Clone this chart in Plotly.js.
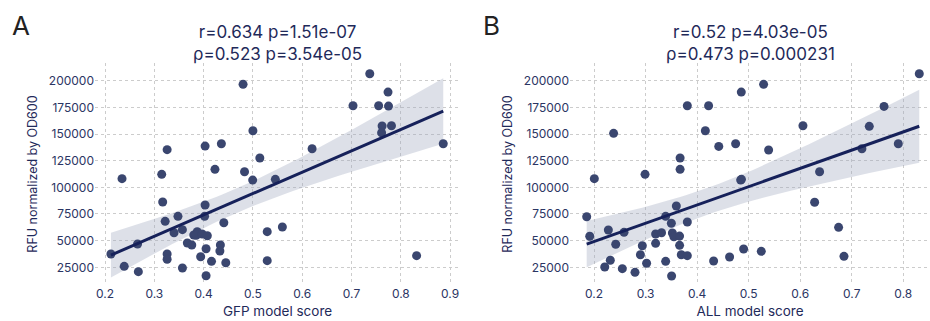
<!DOCTYPE html>
<html>
<head>
<meta charset="utf-8">
<script src="https://cdn.plot.ly/plotly-3.0.1.min.js"></script>
<style>html,body{margin:0;padding:0;background:#fff;}#chart{width:930px;height:321px;}</style>
</head>
<body>
<div id="chart"></div>
<script>
// Panel A: GFP model score vs RFU normalized by OD600
const gfpScore = [0.480,0.500,0.326,0.403,0.436,0.514,0.2345,0.315,0.423,0.483,0.4995,0.5455,0.737,0.774,0.703,0.755,0.775,0.762,0.781,0.761,0.620,0.886,0.5597,0.832,0.317,0.403,0.348,0.322,0.402,0.441,0.340,0.357,0.387,0.380,0.385,0.397,0.4075,0.367,0.376,0.266,0.434,0.433,0.405,0.212,0.326,0.326,0.394,0.416,0.445,0.529,0.529,0.239,0.2676,0.357,0.405];
const gfpRFU = [196600,153100,135300,138700,140900,127500,108100,112200,116900,114600,106800,107500,206500,189300,176500,176500,176200,157500,157700,151200,136200,140900,62800,35900,86200,83400,72800,68100,72800,66800,57400,60300,58400,55300,55000,56200,54600,47800,45900,46800,45900,40300,42400,37500,37500,32500,34900,30600,29300,58400,31200,25900,20900,24300,17100];

// Panel B: ALL model score vs RFU normalized by OD600
const allScore = [0.2006,0.238,0.299,0.367,0.367,0.381,0.4223,0.416,0.442,0.4747,0.4857,0.4845,0.486,0.529,0.6053,0.5387,0.734,0.7626,0.831,0.7903,0.7197,0.6376,0.628,0.6745,0.6849,0.4902,0.5245,0.1858,0.1917,0.2278,0.2582,0.2421,0.2316,0.2208,0.2549,0.2795,0.302,0.290,0.2937,0.3195,0.3195,0.331,0.339,0.3597,0.350,0.381,0.352,0.355,0.366,0.366,0.3693,0.381,0.339,0.3505,0.432,0.463];
const allRFU = [108100,150600,112200,127500,116900,176500,176500,153100,138400,140900,189300,106800,107500,196600,157700,135000,157200,175900,206500,140900,136200,114600,86000,62500,35300,42200,40000,72400,54100,60000,57800,46600,31600,25300,23700,20300,28800,36800,45200,56200,47500,57400,72800,82500,66300,67500,57200,53700,54300,45600,36800,35900,30600,16800,30900,34700];

const titlesA = ["r=0.634 p=1.51e-07", "\u03c1=0.523 p=3.54e-05"];
const titlesB = ["r=0.52 p=4.03e-05", "\u03c1=0.473 p=0.000231"];
const xTitles = ["GFP model score", "ALL model score"];
const yTitle = "RFU normalized by OD600";
const panelLetters = ["A", "B"];

function regression(x, y) {
  const n = x.length;
  const mx = x.reduce((a,b)=>a+b,0)/n, my = y.reduce((a,b)=>a+b,0)/n;
  let sxx=0, sxy=0;
  for (let i=0;i<n;i++){ sxx+=(x[i]-mx)**2; sxy+=(x[i]-mx)*(y[i]-my); }
  const b = sxy/sxx, a = my - b*mx;
  let sse=0; for (let i=0;i<n;i++){ sse+=(y[i]-a-b*x[i])**2; }
  const s = Math.sqrt(sse/(n-2));
  const t = 2.006;
  const xmin = Math.min(...x), xmax = Math.max(...x);
  const xs=[], yfit=[], lo=[], hi=[];
  const N=60;
  for (let k=0;k<=N;k++){
    const xv = xmin + (xmax-xmin)*k/N;
    const yv = a + b*xv;
    const se = s*Math.sqrt(1/n + (xv-mx)**2/sxx);
    xs.push(xv); yfit.push(yv); lo.push(yv - t*se); hi.push(yv + t*se);
  }
  return {xs, yfit, lo, hi};
}

const markerColor = '#3a466f';
const lineColor = '#16215a';
const bandColor = 'rgba(160,168,190,0.36)';

function panelTraces(x, y, xa, ya) {
  const r = regression(x, y);
  return [
    {x: r.xs, y: r.lo, xaxis: xa, yaxis: ya, mode: 'lines', line: {width: 0}, hoverinfo: 'skip', showlegend: false, type: 'scatter'},
    {x: r.xs, y: r.hi, xaxis: xa, yaxis: ya, mode: 'lines', line: {width: 0}, fill: 'tonexty', fillcolor: bandColor, hoverinfo: 'skip', showlegend: false, type: 'scatter'},
    {x: x, y: y, xaxis: xa, yaxis: ya, mode: 'markers', marker: {size: 9, color: markerColor}, showlegend: false, type: 'scatter'},
    {x: r.xs, y: r.yfit, xaxis: xa, yaxis: ya, mode: 'lines', line: {color: lineColor, width: 3}, showlegend: false, type: 'scatter'}
  ];
}

const data = [...panelTraces(gfpScore, gfpRFU, 'x', 'y'), ...panelTraces(allScore, allRFU, 'x2', 'y2')];

const fontFam = 'Inter, "Open Sans", sans-serif';
const txtColor = '#1f2a5a';
const gridStyle = {showgrid: true, gridcolor: '#cccccc', griddash: 'dot', gridwidth: 1, zeroline: false, showline: false, ticks: '', tickfont: {size: 12, color: '#2b3563', family: fontFam}};

const yDom = [1-285/321, 1-63/321];
const layout = {
  width: 930, height: 321,
  margin: {l: 0, r: 0, t: 0, b: 0},
  paper_bgcolor: '#fff', plot_bgcolor: '#fff',
  font: {family: fontFam, color: txtColor},
  xaxis: Object.assign({}, gridStyle, {domain: [95/930, 460/930], range: [0.1797, 0.920], dtick: 0.1, tick0: 0.2, anchor: 'y',
    title: {text: xTitles[0], font: {size: 13.5, color: txtColor}, standoff: 6}}),
  yaxis: Object.assign({}, gridStyle, {domain: yDom, range: [8400, 216600], dtick: 25000, tick0: 0, tickformat: 'd', anchor: 'x',
    title: {text: yTitle, font: {size: 12.5, color: txtColor}, standoff: 8}}),
  xaxis2: Object.assign({}, gridStyle, {domain: [570/930, 1], range: [0.1534, 0.8518], dtick: 0.1, tick0: 0.2, anchor: 'y2',
    title: {text: xTitles[1], font: {size: 13.5, color: txtColor}, standoff: 6}}),
  yaxis2: Object.assign({}, gridStyle, {domain: yDom, range: [8400, 216600], dtick: 25000, tick0: 0, tickformat: 'd', anchor: 'x2',
    title: {text: yTitle, font: {size: 12.5, color: txtColor}, standoff: 8}}),
  annotations: [
    {text: titlesA[0] + '<br>' + titlesA[1], xref: 'paper', yref: 'paper', x: 277.5/930, y: 1-20/321, xanchor: 'center', yanchor: 'top', showarrow: false, font: {size: 17, color: txtColor}},
    {text: titlesB[0] + '<br>' + titlesB[1], xref: 'paper', yref: 'paper', x: 750/930, y: 1-20/321, xanchor: 'center', yanchor: 'top', showarrow: false, font: {size: 17, color: txtColor}},
    {text: panelLetters[0], xref: 'paper', yref: 'paper', x: 10/930, y: 1-8/321, xanchor: 'left', yanchor: 'top', showarrow: false, font: {size: 26, color: '#222'}},
    {text: panelLetters[1], xref: 'paper', yref: 'paper', x: 481/930, y: 1-8/321, xanchor: 'left', yanchor: 'top', showarrow: false, font: {size: 26, color: '#222'}}
  ]
};

Plotly.newPlot('chart', data, layout, {staticPlot: true, displayModeBar: false});
</script>
</body>
</html>
